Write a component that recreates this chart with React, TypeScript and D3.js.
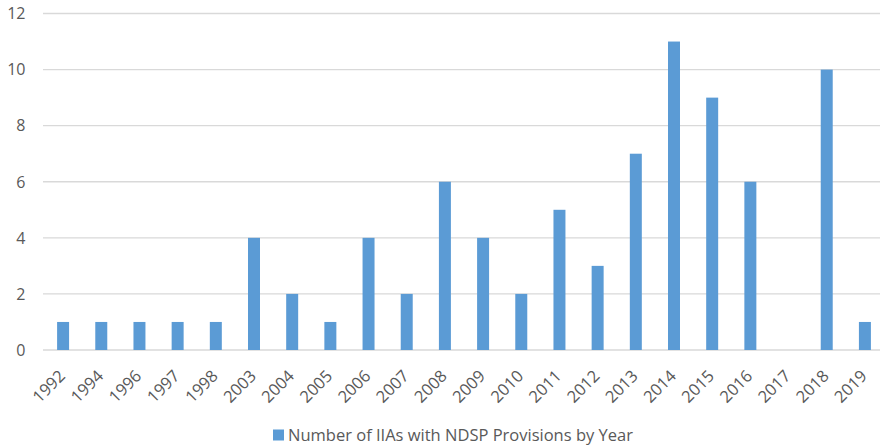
import React from "react";
import * as d3 from "d3";

const WIDTH = 880;
const HEIGHT = 448;

const YEARS = [
  "1992", "1994", "1996", "1997", "1998", "2003", "2004", "2005", "2006", "2007", "2008",
  "2009", "2010", "2011", "2012", "2013", "2014", "2015", "2016", "2017", "2018", "2019",
];
const COUNTS = [1, 1, 1, 1, 1, 4, 2, 1, 4, 2, 6, 4, 2, 5, 3, 7, 11, 9, 6, 0, 10, 1];
const Y_TICKS = [0, 2, 4, 6, 8, 10, 12];
const SERIES_NAME = "Number of IIAs with NDSP Provisions by Year";

const FONT = "'Open Sans', sans-serif";
const TEXT_COLOR = "#595959";
const BAR_COLOR = "#5b9bd5";

export default function App() {
  const x = d3.scaleBand().domain(YEARS).range([44, 884]).paddingInner(0.686).paddingOuter(0.343);
  const y = d3.scaleLinear().domain([0, 12]).range([350, 13.5]);

  return (
    <svg width={WIDTH} height={HEIGHT} style={{ position: "absolute", left: 0, top: 0, background: "#fff" }}>
      {Y_TICKS.map((t) => (
        <g key={t}>
          <line x1={43} x2={WIDTH} y1={y(t)} y2={y(t)} stroke="#d9d9d9" strokeWidth={1.3} />
          <text
            x={25.5}
            y={y(t)}
            dy="0.36em"
            textAnchor="end"
            style={{ fontFamily: FONT, fontSize: 16, fill: TEXT_COLOR }}
          >
            {t}
          </text>
        </g>
      ))}

      {YEARS.map((yr, i) => (
        <rect
          key={yr}
          x={x(yr)}
          y={y(COUNTS[i])}
          width={x.bandwidth()}
          height={y(0) - y(COUNTS[i])}
          fill={BAR_COLOR}
        />
      ))}

      {YEARS.map((yr) => {
        const cx = (x(yr) || 0) + x.bandwidth() / 2 - 1;
        return (
          <text
            key={yr}
            transform={`translate(${cx},${373}) rotate(-45)`}
            textAnchor="end"
            dy="0.35em"
            style={{ fontFamily: FONT, fontSize: 16.5, fill: TEXT_COLOR }}
          >
            {yr}
          </text>
        );
      })}

      <rect x={273} y={429.5} width={11} height={11} fill={BAR_COLOR} />
      <text x={288} y={441} style={{ fontFamily: FONT, fontSize: 16.5, fill: TEXT_COLOR }}>
        {SERIES_NAME}
      </text>
    </svg>
  );
}
